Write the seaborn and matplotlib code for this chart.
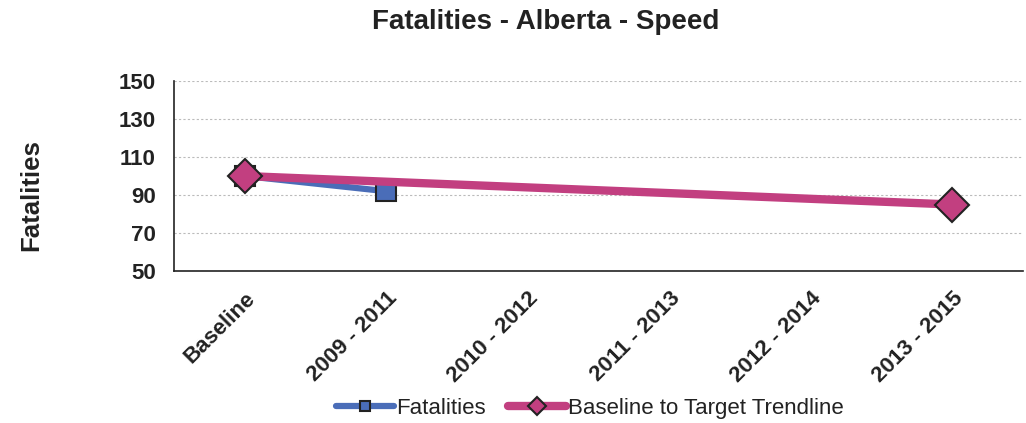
import numpy as np
import pandas as pd
import matplotlib
matplotlib.use('Agg')
import matplotlib.pyplot as plt
import seaborn as sns

# Data
periods = ['Baseline', '2009 - 2011', '2010 - 2012', '2011 - 2013', '2012 - 2014', '2013 - 2015']
fatalities = [100, 92]
trend_periods = ['Baseline', '2013 - 2015']
trend_values = [100, 85]

sns.set_theme(style='white')
plt.rcParams['font.family'] = ['Liberation Sans', 'DejaVu Sans']

blue = '#4A6DB8'
pink = '#C23F80'

fat_df = pd.DataFrame({'x': [periods.index(p) for p in periods[:len(fatalities)]],
                       'y': fatalities})
trend_df = pd.DataFrame({'x': [periods.index(p) for p in trend_periods],
                         'y': trend_values})

fig = plt.figure(figsize=(10.26, 4.23), dpi=100)
ax = fig.add_axes([0.1696, 0.3593, 0.8274, 0.4492])

sns.lineplot(data=fat_df, x='x', y='y', ax=ax, color=blue, linewidth=4.5,
             marker='s', markersize=14, markerfacecolor=blue,
             markeredgecolor='#222222', markeredgewidth=1.5, label='Fatalities')
sns.lineplot(data=trend_df, x='x', y='y', ax=ax, color=pink, linewidth=6,
             marker='D', markersize=17, markerfacecolor=pink,
             markeredgecolor='#222222', markeredgewidth=1.5,
             label='Baseline to Target Trendline')

ax.set_xlim(-0.5, len(periods) - 0.5)
ax.set_ylim(50, 150)
ax.set_yticks(np.arange(50, 151, 20))
ax.set_xticks(range(len(periods)))
ax.set_xticklabels(periods, rotation=45, ha='right', rotation_mode='anchor',
                   fontsize=16, fontweight='bold', color='#222222')
ax.set_xticks(np.arange(-0.5, len(periods), 1), minor=True)
ax.tick_params(axis='x', which='major', length=0, pad=12)
ax.tick_params(axis='x', which='minor', length=6, width=1, color='#444444', direction='out')
ax.tick_params(axis='y', length=6, width=1, color='#444444', direction='out', pad=7)
for lbl in ax.get_yticklabels():
    lbl.set_fontsize(16)
    lbl.set_fontweight('bold')
    lbl.set_color('#222222')

ax.yaxis.grid(True, linestyle=(0, (2, 2)), color='#BBBBBB', linewidth=0.8)
ax.set_axisbelow(True)
for side in ['top', 'right']:
    ax.spines[side].set_visible(False)
for side in ['left', 'bottom']:
    ax.spines[side].set_color('#222222')
    ax.spines[side].set_linewidth(1.2)

ax.set_xlabel('')
ax.set_ylabel('')
fig.text(0.03, 0.54, 'Fatalities', rotation=90, ha='center', va='center',
         fontsize=18.5, fontweight='bold', color='#222222')
fig.text(0.532, 0.948, 'Fatalities - Alberta - Speed', ha='center', va='center',
         fontsize=20, fontweight='bold', color='#222222')

leg = ax.legend(loc='center', bbox_to_anchor=(0.575, 0.035), bbox_transform=fig.transFigure,
                ncol=2, frameon=False, fontsize=16, handlelength=2.6, handletextpad=0.1,
                columnspacing=1.0, markerscale=0.55)
for t in leg.get_texts():
    t.set_color('#222222')

fig.savefig('out.png', dpi=100)
